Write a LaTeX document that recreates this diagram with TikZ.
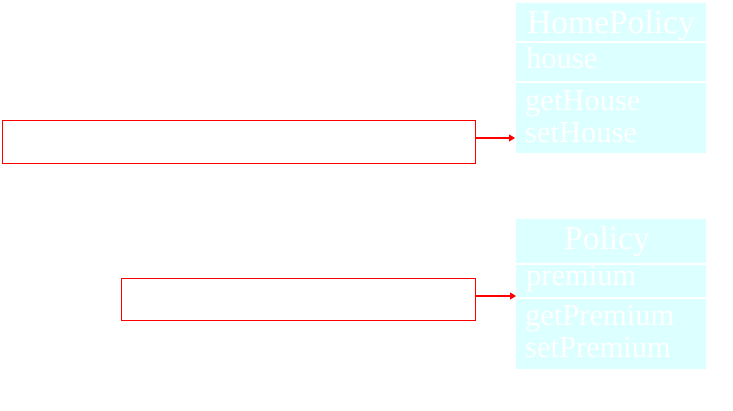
\documentclass[tikz,border=0pt]{standalone}
\usepackage{fontspec}
\setmainfont{Liberation Serif}
\usetikzlibrary{arrows.meta}
\definecolor{clsfill}{RGB}{220,255,255}
\definecolor{lnred}{RGB}{255,0,0}
\tikzset{
  clsbox/.style={fill=clsfill, draw=none},
  divider/.style={draw=white, line width=2pt},
  ctitle/.style={text=white, font=\fontsize{33.5}{33.5}\selectfont, inner sep=0pt, anchor=base},
  citem/.style={text=white, font=\fontsize{30.5}{30.5}\selectfont, inner sep=0pt, anchor=base west},
  notebox/.style={draw=lnred, line width=1.3pt, fill=white},
  link/.style={draw=lnred, line width=1.1pt, -{Triangle[length=6pt,width=7pt]}},
}
\begin{document}
\begin{tikzpicture}[x=1pt,y=-1pt]
\useasboundingbox (0,0) rectangle (733,410);
% HomePolicy class
\fill[clsfill] (516,3) rectangle (706,153);
\draw[divider] (516,41.5) -- (706,41.5);
\draw[divider] (516,82) -- (706,82);
\node[ctitle] (hpt) at (611,33) {HomePolicy};
\node[citem] (hpa) at (526,68) {house};
\node[citem] (hpm1) at (525,110) {getHouse};
\node[citem] (hpm2) at (525,142) {setHouse};
\coordinate (hpin) at (515,138);
% Policy class
\fill[clsfill] (516,219) rectangle (706,369);
\draw[divider] (516,264) -- (706,264);
\draw[divider] (516,298) -- (706,298);
\node[ctitle] (pt) at (607,249) {Policy};
\node[citem] (pa) at (526,285) {premium};
\node[citem] (pm1) at (525,325) {getPremium};
\node[citem] (pm2) at (525,357) {setPremium};
\coordinate (pin) at (516,296);
% note boxes
\node[notebox, minimum width=473pt, minimum height=43pt, anchor=north west, inner sep=0pt] (n1) at (1.5,119.5) {};
\node[notebox, minimum width=354pt, minimum height=42pt, anchor=north west, inner sep=0pt] (n2) at (120.5,277.5) {};
\draw[link] (n1.east |- hpin) -- (hpin);
\draw[link] (n2.east |- pin) -- (pin);
\end{tikzpicture}
\end{document}
